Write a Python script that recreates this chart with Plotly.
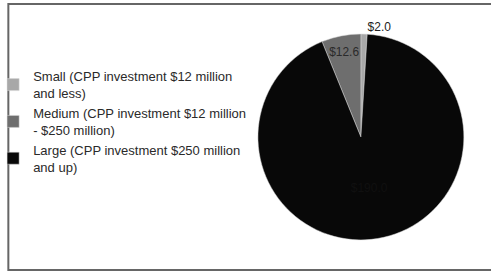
import plotly.graph_objects as go

categories = [
    "Small (CPP investment $12 million<br>and less)",
    "Medium (CPP investment $12 million<br>- $250 million)",
    "Large (CPP investment $250 million<br>and up)",
]
values = [2.0, 12.6, 190.0]
colors = ["#a8a8a8", "#6e6e6e", "#080808"]
text_positions = ["outside", "inside", "inside"]
text_colors = ["#222222", "#2a2a2a", "#101010"]

fig = go.Figure(
    go.Pie(
        labels=categories,
        values=values,
        sort=False,
        direction="counterclockwise",
        rotation=0,
        marker=dict(colors=colors, line=dict(color="#d8d8d8", width=0.5)),
        texttemplate="$%{value:.1f}",
        textposition=text_positions,
        textfont=dict(family="Liberation Sans Narrow, Liberation Sans, Arial", size=12, color=text_colors),
        insidetextorientation="horizontal",
        hoverinfo="label+value",
        domain=dict(x=[0.525, 0.945], y=[0.118, 0.875]),
        showlegend=True,
    )
)

fig.update_layout(
    width=491,
    height=272,
    margin=dict(l=0, r=0, t=0, b=0, autoexpand=False),
    paper_bgcolor="white",
    plot_bgcolor="white",
    font=dict(family="Liberation Sans, Arial", size=13, color="#2a2a2a"),
    legend=dict(
        x=-0.014,
        y=0.775,
        xanchor="left",
        yanchor="top",
        font=dict(size=13, color="#2a2a2a"),
        itemwidth=30,
        bgcolor="rgba(0,0,0,0)",
    ),
    shapes=[
        dict(type="rect", xref="paper", yref="paper", x0=0.017, x1=1.01, y0=0.007, y1=0.985,
             line=dict(color="#666666", width=2), fillcolor="rgba(0,0,0,0)", layer="below"),
    ],
)

fig.write_html(
    "out.html",
    config={"displayModeBar": False},
    post_script="document.body.style.margin='0px';",
)
